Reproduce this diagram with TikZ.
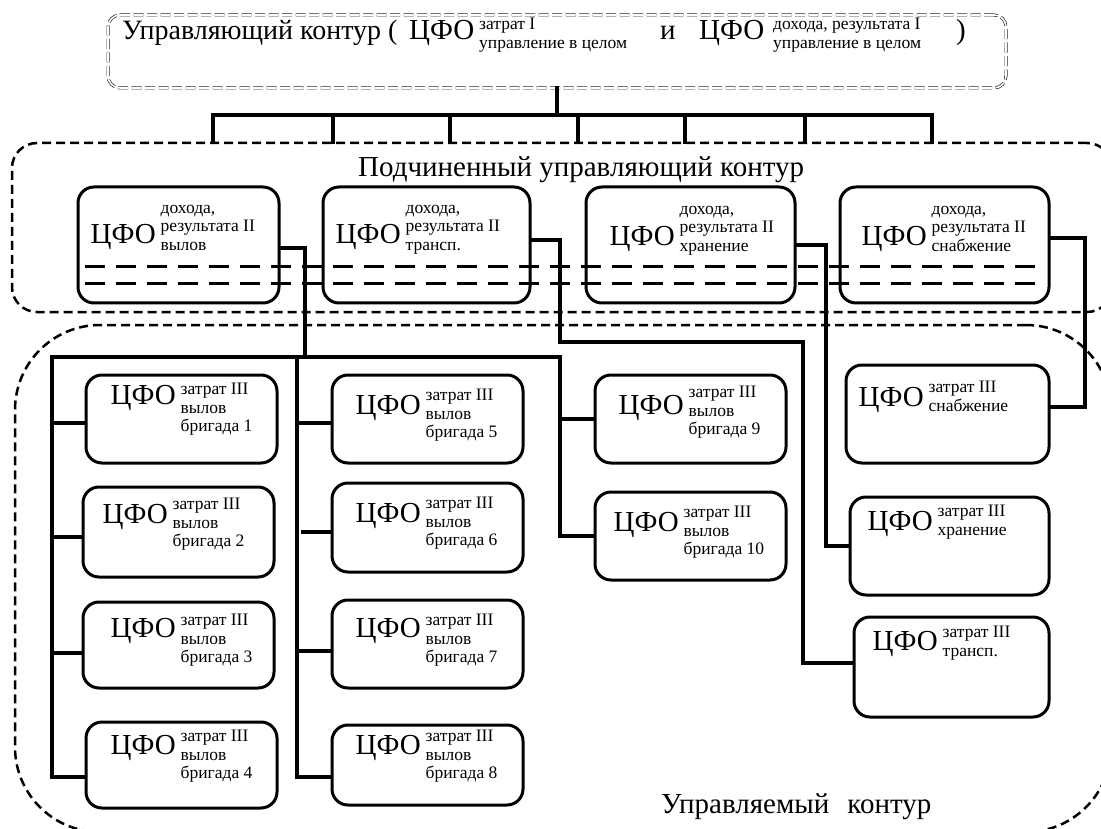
\documentclass[tikz,border=0pt]{standalone}
\usepackage{fontspec}
\setmainfont{Liberation Serif}
\usetikzlibrary{calc}
\tikzset{
  cbox/.style={draw, line width=3pt, rounded corners=16pt, inner sep=0pt},
  conn/.style={line width=4pt, line cap=rect},
  contour/.style={draw, line width=2.5pt, dash pattern=on 9pt off 5pt, rounded corners=#1, inner sep=0pt},
  topbox/.style={draw=black!85, line width=0.7pt, double=white, double distance=1.6pt, dash pattern=on 10pt off 3.5pt, rounded corners=12pt, inner sep=0pt},
  idash/.style={line width=3pt, dash pattern=on 20pt off 11pt},
  big/.style={anchor=base west, inner sep=0pt, font=\fontsize{29}{31}\selectfont},
  sup/.style={anchor=base west, inner sep=0pt, text height=12pt, text depth=3.5pt, font=\fontsize{17.5}{19}\selectfont},
}
\newcommand\mkbox[5]{\node[cbox, minimum width={#4-#2}, minimum height={#5-#3}] (#1) at ({(#2+#4)/2},{(#3+#5)/2}) {};}
\newcommand\cfotext[5]{%
  \node[big] (#1c) at ($(#1.north west)+(#2,#3)$) {ЦФО};
  \foreach \t [count=\i] in {#5}{\node[sup] (#1s\i) at ($(#1.north west)+({#2+70},{#4+18.5*(\i-1)})$) {\t};}%
}
\begin{document}
\begin{tikzpicture}[x=1pt,y=-1pt]
\useasboundingbox (0,0) rectangle (1101,829);
\clip (0,0) rectangle (1101,829);

% containers
\node[topbox, minimum width=898, minimum height=73] (ctrl) at (557,51.5) {};
\node[contour=25pt, minimum width=1100, minimum height=169] (sub) at (562,227.5) {};
\node[contour=85pt, minimum width=1096, minimum height=507] (ctl) at (563,578.5) {};

% top text
\node[big, font=\fontsize{28}{30}\selectfont] (ta) at (122,40) {Управляющий контур (};
\node[big] (tc1) at (409,40) {ЦФО};
\node[sup] (tc1s) at (479,30) {затрат I};
\node[sup] (tc1u) at (479,49) {управление в целом};
\node[big] (ti) at (660,40) {и};
\node[big] (tc2) at (699,40) {ЦФО};
\node[sup] (tc2s) at (773,30) {дохода, результата I};
\node[sup] (tc2u) at (773,49) {управление в целом};
\node[big] (trp) at (956,40) {)};

\node[big] (subt) at (358,177) {Подчиненный управляющий контур};
\node[big] (ctlt) at (661,813) {Управляемый\hspace{18pt}контур};

% level II boxes
\mkbox{v2}{78}{187}{279}{303}
\mkbox{t2}{323}{187}{530}{303}
\mkbox{h2}{586}{187}{795}{303}
\mkbox{s2}{840}{187}{1049}{303}
\cfotext{v2}{14}{58}{28}{{дохода,},{результата II},вылов}
\cfotext{t2}{14}{58}{28}{{дохода,},{результата II},трансп.}
\cfotext{h2}{25}{60}{29}{{дохода,},{результата II},хранение}
\cfotext{s2}{23}{60}{29}{{дохода,},{результата II},снабжение}

% level III boxes
\mkbox{b1}{86}{375}{277}{463}
\mkbox{b2}{83}{487}{274}{577}
\mkbox{b3}{83}{602}{274}{688}
\mkbox{b4}{86}{722}{277}{808}
\mkbox{b5}{332}{375}{523}{463}
\mkbox{b6}{332}{483}{523}{572}
\mkbox{b7}{332}{600}{523}{688}
\mkbox{b8}{332}{725}{523}{805}
\mkbox{b9}{595}{375}{786}{463}
\mkbox{b10}{595}{492}{786}{580}
\mkbox{sn}{846}{365}{1049}{463}
\mkbox{hr}{850}{497}{1049}{595}
\mkbox{tr}{854}{617}{1049}{717}
\cfotext{b1}{26}{31}{21}{{затрат III},вылов,{бригада 1}}
\cfotext{b2}{21}{38}{24}{{затрат III},вылов,{бригада 2}}
\cfotext{b3}{29}{37}{25}{{затрат III},вылов,{бригада 3}}
\cfotext{b4}{26}{34}{21}{{затрат III},вылов,{бригада 4}}
\cfotext{b5}{25}{41}{27}{{затрат III},вылов,{бригада 5}}
\cfotext{b6}{25}{41}{27}{{затрат III},вылов,{бригада 6}}
\cfotext{b7}{25}{39}{27}{{затрат III},вылов,{бригада 7}}
\cfotext{b8}{25}{31}{18}{{затрат III},вылов,{бригада 8}}
\cfotext{b9}{25}{41}{24}{{затрат III},вылов,{бригада 9}}
\cfotext{b10}{20}{41}{27}{{затрат III},вылов,{бригада 10}}
\cfotext{sn}{14}{43}{29}{{затрат III},снабжение}
\cfotext{hr}{19}{35}{21}{{затрат III},хранение}
\cfotext{tr}{20}{35}{22}{{затрат III},трансп.}

% top bus
\coordinate (busL) at (213,115);
\coordinate (busR) at (932,115);
\draw[conn] (ctrl.south) -- (ctrl.south |- busL);
\draw[conn] (busL) -- (busR);
\foreach \x [count=\k] in {213,333,450,578,685,805,932}{
  \coordinate (d\k) at (\x,115);
  \draw[conn] (d\k) -- (sub.north -| d\k);
}

% vylov chain
\coordinate (c1top) at (52,357);
\coordinate (c2top) at (297,357);
\coordinate (c3top) at (560,357);
\coordinate (jv) at (305,357);
\draw[conn] ([yshift=-3pt]v2.east) -| (jv);
\draw[conn] (c3top) -- (c1top) |- ([yshift=-12pt]b4.west);
\draw[conn] (c2top) |- ([yshift=-12pt]b8.west);
\draw[conn] (c3top) |- (b10.west);
\draw[conn] ([yshift=-4pt]b1.west) -- ([yshift=-4pt]b1.west -| c1top);
\draw[conn] ([yshift=-5pt]b2.west) -- ([yshift=-5pt]b2.west -| c1top);
\draw[conn] ([yshift=-8pt]b3.west) -- ([yshift=-8pt]b3.west -| c1top);
\draw[conn] ([yshift=-4pt]b5.west) -- ([yshift=-4pt]b5.west -| c2top);
\draw[conn] ([yshift=-4pt]b6.west) -- ($([yshift=-4pt]b6.west -| c2top)+(6,0)$);
\draw[conn] ([yshift=-7pt]b7.west) -- ([yshift=-7pt]b7.west -| c2top);
\draw[conn] (b9.west) -- (b9.west -| c3top);

% transp chain
\coordinate (jt1) at (560,342);
\coordinate (jt2) at (803,342);
\draw[conn] ([yshift=5pt]t2.east) -| (jt1) -- (jt2) |- ([yshift=4pt]tr.west);
% khranenie chain
\coordinate (xh) at (826,0);
\draw[conn] (h2.east) -| (xh |- hr.west) -- (hr.west);
% snabzhenie chain
\coordinate (xs) at (1085,0);
\coordinate (snE) at ([yshift=7pt]sn.east);
\draw[conn] ([yshift=7pt]s2.east) -| (xs |- snE) -- (snE);

% inner dashed lines
\coordinate (dl1) at (85,267);
\coordinate (dr1) at (1040,267);
\coordinate (dl2) at (85,284);
\coordinate (dr2) at (1040,284);
\draw[idash] (dl1) -- (dr1);
\draw[idash] (dl2) -- (dr2);
\end{tikzpicture}
\end{document}
